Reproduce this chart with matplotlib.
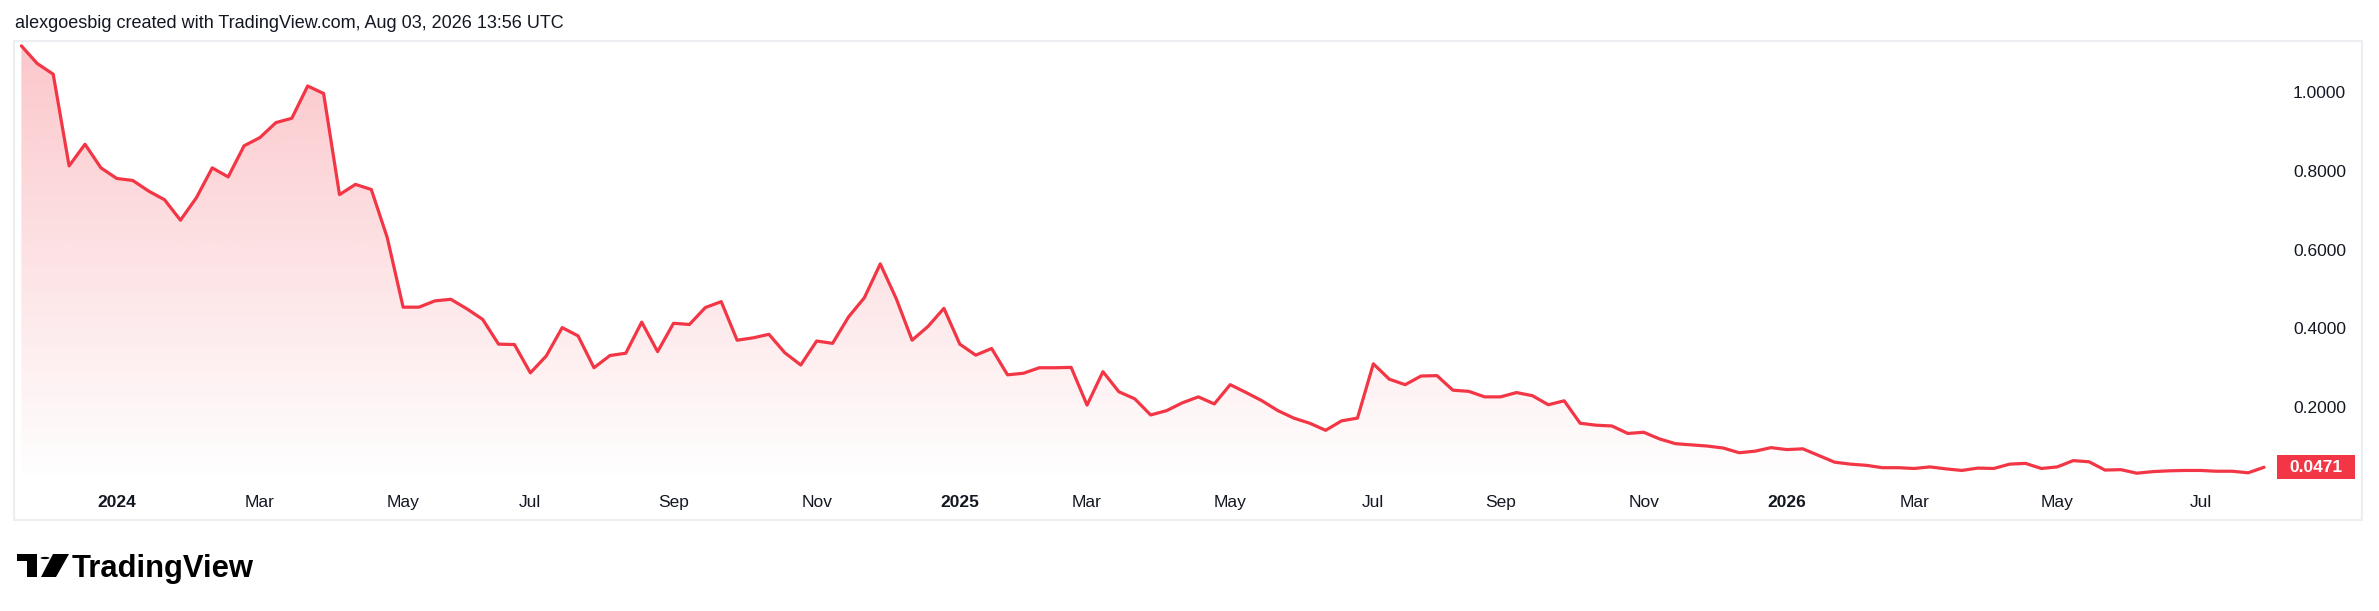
import numpy as np
import pandas as pd
import matplotlib
matplotlib.use("Agg")
import matplotlib.pyplot as plt
import matplotlib.transforms as mtransforms
from matplotlib.patches import Rectangle, Circle, Polygon

# ---------------- data ----------------
start_week = "2023-11-20"
values = [
    1.118, 1.073, 1.046, 0.813, 0.868, 0.808, 0.781, 0.776, 0.749, 0.727,
    0.675, 0.732, 0.808, 0.785, 0.864, 0.885, 0.923, 0.934, 1.016, 0.997,
    0.740, 0.766, 0.753, 0.631, 0.454, 0.454, 0.470, 0.474, 0.450, 0.423,
    0.360, 0.359, 0.287, 0.330, 0.402, 0.381, 0.300, 0.331, 0.337, 0.416,
    0.341, 0.413, 0.410, 0.453, 0.468, 0.370, 0.376, 0.385, 0.338, 0.307,
    0.368, 0.362, 0.429, 0.478, 0.564, 0.476, 0.370, 0.405, 0.451, 0.360,
    0.332, 0.349, 0.282, 0.286, 0.300, 0.300, 0.301, 0.205, 0.290, 0.239,
    0.221, 0.180, 0.191, 0.211, 0.226, 0.208, 0.257, 0.237, 0.216, 0.191,
    0.172, 0.159, 0.141, 0.165, 0.172, 0.310, 0.271, 0.257, 0.279, 0.280,
    0.243, 0.240, 0.226, 0.226, 0.237, 0.229, 0.206, 0.216, 0.159, 0.154,
    0.152, 0.133, 0.136, 0.119, 0.107, 0.104, 0.101, 0.096, 0.084, 0.088,
    0.097, 0.092, 0.094, 0.077, 0.060, 0.055, 0.052, 0.046, 0.046, 0.044,
    0.048, 0.043, 0.039, 0.045, 0.044, 0.055, 0.057, 0.044, 0.048, 0.064,
    0.061, 0.040, 0.041, 0.032, 0.036, 0.038, 0.039, 0.039, 0.037, 0.037,
    0.033, 0.0471,
]
dates = pd.date_range(start_week, periods=len(values), freq="7D")
tick_labels = ["2024", "Mar", "May", "Jul", "Sep", "Nov",
               "2025", "Mar", "May", "Jul", "Sep", "Nov",
               "2026", "Mar", "May", "Jul"]
y_ticks = [0.2, 0.4, 0.6, 0.8, 1.0]
last_label = "0.0471"
title = "alexgoesbig created with TradingView.com, Aug 03, 2026 13:56 UTC"

# ---------------- style ----------------
W, H = 2379, 611
RED = "#F23645"
TXT = "#131722"
FONT = "Liberation Sans"
plt.rcParams["font.family"] = [FONT, "DejaVu Sans"]

fig = plt.figure(figsize=(W / 100, H / 100), dpi=100)
fig.patch.set_facecolor("white")

def fx(px):
    return px / W

def fy(py):
    return 1 - py / H

# pane
L, R, T, B = 14, 2272, 41, 483
ax = fig.add_axes([fx(L), fy(B), fx(R) - fx(L), fy(T) - fy(B)])
ax.set_facecolor("none")
x = np.arange(len(values))
ax.set_xlim(-0.465, 141.5)
ymin, ymax = 0.0071, 1.1304
ax.set_ylim(ymin, ymax)
for s in ax.spines.values():
    s.set_visible(False)

# gradient fill under the line
grad = np.linspace(0.28, 0.0, 256)
rgba = np.zeros((256, 1, 4))
rgba[..., 0] = 242 / 255
rgba[..., 1] = 54 / 255
rgba[..., 2] = 69 / 255
rgba[:, 0, 3] = grad
vmax = max(values)
im = ax.imshow(rgba, extent=[x[0], x[-1], ymin, vmax], aspect="auto",
               origin="upper", zorder=1, interpolation="bilinear")
poly = ax.fill_between(x, values, ymin, facecolor="none", edgecolor="none")
clip = poly.get_paths()[0]
im.set_clip_path(clip, transform=ax.transData)

ax.plot(x, values, color=RED, lw=2.3, solid_joinstyle="round",
        solid_capstyle="round", zorder=3)

# time axis ticks: first weekly bar of each odd month
month = dates.month
tick_pos = [i for i in range(1, len(dates))
            if month[i] != month[i - 1] and month[i] % 2 == 1]
ax.set_xticks(tick_pos[:len(tick_labels)])
ax.set_xticklabels(tick_labels[:len(tick_pos)])
ax.tick_params(axis="x", length=0, pad=8.8, labelsize=12.5, labelcolor=TXT)
for lab in ax.get_xticklabels():
    if lab.get_text().isdigit():
        lab.set_fontweight("bold")

# price axis
ax.yaxis.tick_right()
ax.set_yticks(y_ticks)
ax.set_yticklabels([f"{v:.4f}" for v in y_ticks])
ax.tick_params(axis="y", length=0, pad=15.1, labelsize=12.5, labelcolor=TXT)

# last value label
last = values[-1]
dpp = (ymax - ymin) / (B - T)
btr = mtransforms.blended_transform_factory(fig.transFigure, ax.transData)
ax.add_patch(Rectangle((fx(2277), last - 12 * dpp), fx(2355) - fx(2277), 24 * dpp,
                       transform=btr, facecolor=RED, edgecolor="none",
                       clip_on=False, zorder=5))
ax.text(fx(2316), last, last_label, transform=btr, ha="center", va="center",
        color="white", fontsize=12.5, fontweight="bold", zorder=6, clip_on=False)

# outer frame
fig.add_artist(Rectangle((fx(14), fy(520)), fx(2362) - fx(14), fy(41) - fy(520),
                         transform=fig.transFigure, facecolor="none",
                         edgecolor="#eceef2", lw=1.6))

# title
fig.text(fx(15), fy(28.5), title, ha="left", va="baseline", color=TXT,
         fontsize=12.95)

# TradingView logo
k = "#000000"
fig.add_artist(Rectangle((fx(17), fy(560.5)), fx(37) - fx(17), fy(554) - fy(560.5),
                         transform=fig.transFigure, facecolor=k, edgecolor="none"))
fig.add_artist(Rectangle((fx(27), fy(577)), fx(37) - fx(27), fy(554) - fy(577),
                         transform=fig.transFigure, facecolor=k, edgecolor="none"))
fig.add_artist(Polygon([(fx(53), fy(554)), (fx(69), fy(554)),
                        (fx(56), fy(577)), (fx(41), fy(577))],
                       closed=True, transform=fig.transFigure,
                       facecolor=k, edgecolor="none"))
fig.add_artist(Circle((fx(45), fy(558)), 4.4 / W, transform=fig.transFigure,
                      facecolor=k, edgecolor="none"))
fig.text(fx(72), fy(576.5), "TradingView", ha="left", va="baseline",
         color=k, fontsize=22.3, fontweight="bold")

fig.savefig("out.png", dpi=100, facecolor="white")
